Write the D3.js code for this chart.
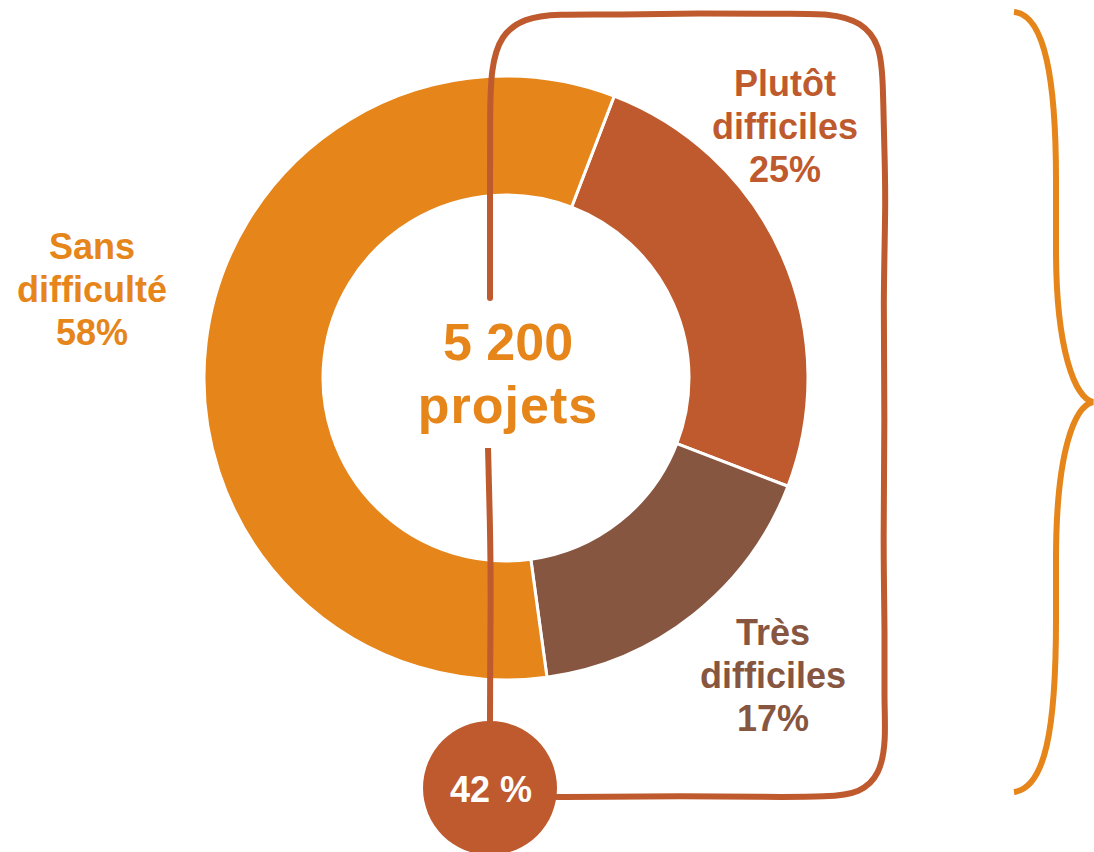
<!DOCTYPE html>
<html>
<head>
<meta charset="utf-8">
<script src="https://cdn.jsdelivr.net/npm/d3@7"></script>
<style>
  html, body { margin: 0; padding: 0; background: #fff; }
  svg { display: block; font-family: "Liberation Sans", Arial, sans-serif; font-weight: bold; }
</style>
</head>
<body>
<svg width="1094" height="852"></svg>
<script>
document.addEventListener("DOMContentLoaded", () => {

  // data
  const categories = ["Plutôt difficiles", "Très difficiles", "Sans difficulté"]
  const shares = [25, 17, 58]
  const labelLines = [["Plutôt", "difficiles", "25%"], ["Très", "difficiles", "17%"], ["Sans", "difficulté", "58%"]]
  const totalLabel = ["5 200", "projets"]
  const difficultShare = "42 %"

  const colors = ["#BE5A2D", "#875641", "#E5851A"]

  const width = 1094
  const height = 852
  const cx = 506
  const cy = 378
  const outerR = 302
  const innerR = 183

  const svg = d3.select("svg")

  const pie = d3.pie()
    .sort(null)
    .value(d => d)
    .startAngle(21 * Math.PI / 180)
    .endAngle((21 + 360) * Math.PI / 180)

  const arc = d3.arc().innerRadius(innerR).outerRadius(outerR)

  const donut = svg.append("g").attr("transform", `translate(${cx},${cy})`)

  donut.selectAll("path")
    .data(pie(shares))
    .enter()
    .append("path")
      .attr("d", arc)
      .attr("fill", (d, i) => colors[i])
      .attr("stroke", "#fff")
      .attr("stroke-width", 3)

  // labels of the slices
  const labelPos = [
    { x: 785, y: 96 },
    { x: 773, y: 645 },
    { x: 92, y: 259 }
  ]
  const lineH = 43

  labelLines.forEach((lines, i) => {
    const t = svg.append("text")
      .attr("text-anchor", "middle")
      .attr("font-size", 36)
      .attr("fill", colors[i])
    lines.forEach((s, j) => {
      t.append("tspan")
        .attr("x", labelPos[i].x)
        .attr("y", labelPos[i].y + j * lineH)
        .text(s)
    })
  })

  // center total
  const ct = svg.append("text")
    .attr("text-anchor", "middle")
    .attr("font-size", 52)
    .attr("fill", colors[2])
  totalLabel.forEach((s, j) => {
    ct.append("tspan")
      .attr("x", cx + 2)
      .attr("y", 360 + j * 63)
      .attr("letter-spacing", j === 1 ? 1 : 0)
      .text(s)
  })

  // hand drawn bracket around the difficult slices
  const rust = colors[0]
  const line = d3.line().curve(d3.curveBasis)

  const bracketTop = [
    [490, 298], [490, 200], [490, 110], [491, 70], [500, 35], [525, 18], [555, 14],
    [620, 15], [700, 13], [780, 14], [830, 13], [862, 22], [880, 45], [883, 80],
    [884, 140], [886, 200], [883, 300], [885, 420], [883, 540], [885, 640],
    [884, 700], [886, 740], [880, 775], [860, 793], [830, 797], [760, 797],
    [680, 796], [600, 797], [557, 797]
  ]
  svg.append("path")
    .attr("d", line(bracketTop))
    .attr("fill", "none")
    .attr("stroke", rust)
    .attr("stroke-width", 6)
    .attr("stroke-linecap", "round")

  svg.append("path")
    .attr("d", line([[488, 448], [490, 520], [491, 600], [490, 680], [490, 725]]))
    .attr("fill", "none")
    .attr("stroke", rust)
    .attr("stroke-width", 6)

  svg.append("circle")
    .attr("cx", 490)
    .attr("cy", 788)
    .attr("r", 67)
    .attr("fill", rust)

  svg.append("text")
    .attr("x", 491)
    .attr("y", 802)
    .attr("text-anchor", "middle")
    .attr("font-size", 36)
    .attr("fill", "#fff")
    .text(difficultShare)

  // curly brace on the right
  const brace = d3.path()
  brace.moveTo(1014, 12)
  brace.bezierCurveTo(1045, 15, 1056, 80, 1056, 180)
  brace.lineTo(1056, 250)
  brace.bezierCurveTo(1056, 350, 1075, 398, 1093, 402)
  brace.bezierCurveTo(1075, 406, 1056, 450, 1056, 560)
  brace.lineTo(1056, 620)
  brace.bezierCurveTo(1056, 730, 1045, 788, 1014, 792)
  svg.append("path")
    .attr("d", brace.toString())
    .attr("fill", "none")
    .attr("stroke", colors[2])
    .attr("stroke-width", 6)

})
</script>
</body>
</html>
